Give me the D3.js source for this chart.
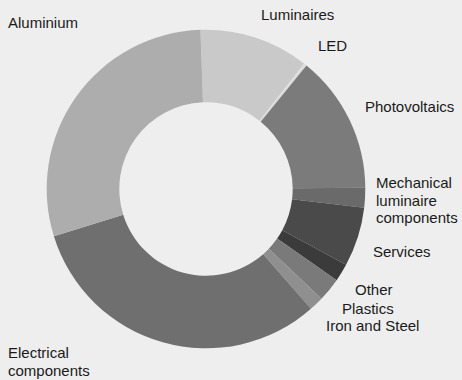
<!DOCTYPE html>
<html>
<head>
<meta charset="utf-8">
<script src="https://cdn.jsdelivr.net/npm/d3@7"></script>
<style>
  html, body { margin: 0; padding: 0; background: #eeeeee; }
  svg { display: block; }
  text { font-family: "Liberation Sans", Arial, Helvetica, sans-serif; font-size: 15px; fill: #1a1a1a; }
</style>
</head>
<body>
<svg id="chart" width="462" height="380"></svg>
<script>
// Cost breakdown shares (%), clockwise from the top
const categories = [
  "Luminaires", "LED", "Photovoltaics", "Mechanical luminaire components",
  "Services", "Other", "Plastics", "Iron and Steel",
  "Electrical components", "Aluminium"
];
const shares = [11.1, 0.3, 14.0, 2.0, 6.0, 1.8, 2.4, 1.45, 31.6, 29.2];
const fills = [
  "#c9c9c9", "#dddddd", "#7b7b7b", "#6a6a6a",
  "#4a4a4a", "#3b3b3b", "#7a7a7a", "#8f8f8f",
  "#6f6f6f", "#adadad"
];

// Label lines and placement
const labelLines = {
  "Mechanical luminaire components": ["Mechanical", "luminaire", "components"],
  "Electrical components": ["Electrical", "components"]
};
const labelLayout = {
  "Luminaires": [261, 15],
  "LED": [318, 45.5],
  "Photovoltaics": [365, 107],
  "Mechanical luminaire components": [376, 183],
  "Services": [373, 251.5],
  "Other": [355, 290],
  "Plastics": [342, 309],
  "Iron and Steel": [326, 326],
  "Electrical components": [8, 353],
  "Aluminium": [8, 22.5]
};

const svg = d3.select("#chart");
const cx = 206, cy = 189;
const outerR = 159.3, innerR = 86.7;

const data = categories.map((c, i) => ({ name: c, value: shares[i], fill: fills[i] }));

const pie = d3.pie()
  .sort(null)
  .value(d => d.value)
  .startAngle(-2 * Math.PI / 180)
  .endAngle(2 * Math.PI - 2 * Math.PI / 180);

const arc = d3.arc().innerRadius(innerR).outerRadius(outerR);

const g = svg.append("g").attr("transform", `translate(${cx},${cy})`);
g.selectAll("path.slice")
  .data(pie(data))
  .join("path")
  .attr("class", "slice")
  .attr("d", arc)
  .attr("fill", d => d.data.fill);

const labels = svg.append("g");
data.forEach(d => {
  const [x, y] = labelLayout[d.name];
  const lines = labelLines[d.name] || [d.name];
  const t = labels.append("text").attr("x", x).attr("y", y).attr("dy", "0.35em");
  lines.forEach((ln, i) => {
    t.append("tspan").attr("x", x).attr("dy", i === 0 ? "0.35em" : 17.3).text(ln);
  });
});
</script>
</body>
</html>
